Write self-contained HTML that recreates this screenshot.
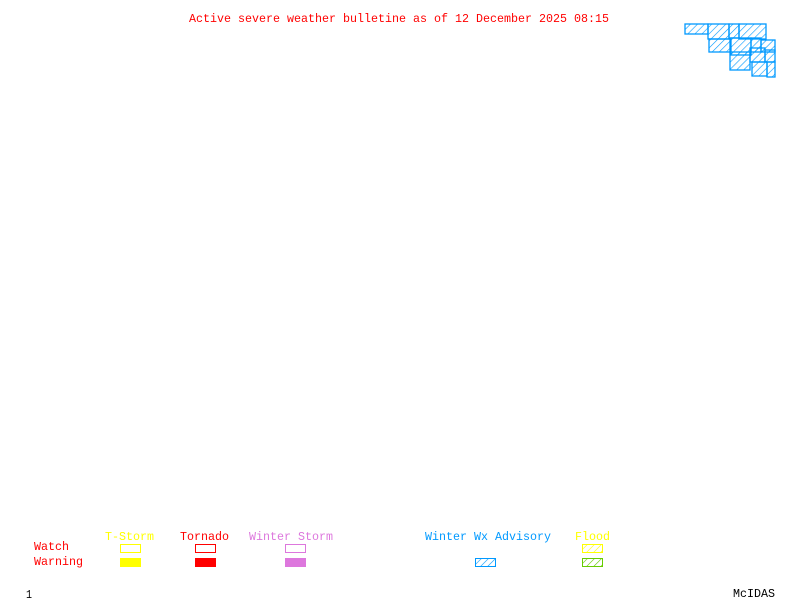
<!DOCTYPE html>
<html><head><meta charset="utf-8"><style>
html,body{margin:0;padding:0;background:#fff;width:800px;height:600px;overflow:hidden}
svg{display:block}
text{font-family:"Liberation Mono",monospace;font-size:12px}
</style></head><body>
<svg width="800" height="600" viewBox="0 0 800 600" xmlns="http://www.w3.org/2000/svg">
<defs>
<pattern id="hb" width="5" height="5" patternUnits="userSpaceOnUse" patternTransform="rotate(45)">
<line x1="0" y1="0" x2="0" y2="5" stroke="#0099ff" stroke-width="1.2"/></pattern>
<pattern id="hy" width="5" height="5" patternUnits="userSpaceOnUse" patternTransform="rotate(45)">
<line x1="0" y1="0" x2="0" y2="5" stroke="#ffff00" stroke-width="1.2"/></pattern>
<pattern id="hg" width="5" height="5" patternUnits="userSpaceOnUse" patternTransform="rotate(45)">
<line x1="0" y1="0" x2="0" y2="5" stroke="#66cc00" stroke-width="1.2"/></pattern>
</defs>
<text x="189" y="22" fill="#ff0000" textLength="420" lengthAdjust="spacingAndGlyphs">Active severe weather bulletine as of 12 December 2025 08:15</text>

<g fill="url(#hb)" stroke="#0099ff" stroke-width="1.3">
<rect x="685" y="24" width="23" height="10"/>
<rect x="708" y="24" width="21" height="15"/>
<rect x="709" y="39" width="21" height="13"/>
<rect x="729" y="24" width="10" height="14"/>
<rect x="739" y="24" width="27" height="15"/>
<rect x="731" y="38" width="20" height="17"/>
<rect x="751" y="38" width="10" height="14"/>
<rect x="761" y="40" width="14" height="12"/>
<rect x="730" y="52" width="20" height="18"/>
<rect x="750" y="48" width="15" height="14"/>
<rect x="765" y="50" width="10" height="12"/>
<rect x="752" y="62" width="15" height="14"/>
<rect x="767" y="62" width="8" height="15"/>
</g>

<text x="105" y="540" fill="#ffff00" textLength="49" lengthAdjust="spacingAndGlyphs">T-Storm</text>
<text x="180" y="540" fill="#ff0000" textLength="49" lengthAdjust="spacingAndGlyphs">Tornado</text>
<text x="249" y="540" fill="#dd77dd" textLength="84" lengthAdjust="spacingAndGlyphs">Winter Storm</text>
<text x="425" y="540" fill="#0099ff" textLength="126" lengthAdjust="spacingAndGlyphs">Winter Wx Advisory</text>
<text x="575" y="540" fill="#ffff00" textLength="35" lengthAdjust="spacingAndGlyphs">Flood</text>
<text x="34" y="550" fill="#ff0000" textLength="35" lengthAdjust="spacingAndGlyphs">Watch</text>
<text x="34" y="565" fill="#ff0000" textLength="49" lengthAdjust="spacingAndGlyphs">Warning</text>

<rect x="120.5" y="544.5" width="20" height="8" fill="none" stroke="#ffff00"/>
<rect x="195.5" y="544.5" width="20" height="8" fill="none" stroke="#ff0000"/>
<rect x="285.5" y="544.5" width="20" height="8" fill="none" stroke="#dd77dd"/>
<rect x="582.5" y="544.5" width="20" height="8" fill="url(#hy)" stroke="#ffff00"/>

<rect x="120" y="558" width="21" height="9" fill="#ffff00"/>
<rect x="195" y="558" width="21" height="9" fill="#ff0000"/>
<rect x="285" y="558" width="21" height="9" fill="#dd77dd"/>
<rect x="475.5" y="558.5" width="20" height="8" fill="url(#hb)" stroke="#0099ff"/>
<rect x="582.5" y="558.5" width="20" height="8" fill="url(#hg)" stroke="#66cc00"/>

<text x="26" y="598" fill="#000" textLength="6" lengthAdjust="spacingAndGlyphs">1</text>
<text x="733" y="597" fill="#000" textLength="42" lengthAdjust="spacingAndGlyphs">McIDAS</text>
</svg>
</body></html>
